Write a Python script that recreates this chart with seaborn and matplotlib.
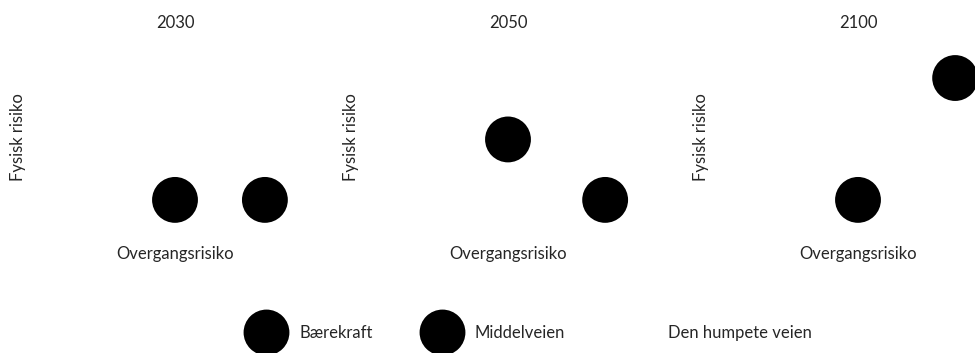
import matplotlib
matplotlib.use("Agg")
import matplotlib.pyplot as plt
from matplotlib.lines import Line2D
import seaborn as sns
import pandas as pd

# Scenario positions per horizon (transition risk on x, physical risk on y, 0-10 scale)
years = ["2030", "2050", "2100"]
scenarios = ["Bærekraft", "Middelveien", "Den humpete veien"]
baerekraft_x = [8.1, 8.35, 5.0]
baerekraft_y = [1.8, 1.8, 1.8]
middelveien_x = [5.0, 5.0, 8.35]
middelveien_y = [1.8, 4.9, 8.05]

rows = []
for i, yr in enumerate(years):
    rows.append({"year": yr, "scenario": "Bærekraft", "x": baerekraft_x[i], "y": baerekraft_y[i]})
    rows.append({"year": yr, "scenario": "Middelveien", "x": middelveien_x[i], "y": middelveien_y[i]})
df = pd.DataFrame(rows)

sns.set_theme(style="white")
plt.rcParams["font.family"] = ["Lato", "DejaVu Sans"]

W, H = 975, 353
FS = 12
fig = plt.figure(figsize=(W / 100, H / 100), dpi=100)

palette = {"Bærekraft": "black", "Middelveien": "black", "Den humpete veien": "white"}
lefts = [30, 363, 713]
ax_w, ax_top, ax_bot = 290, 40, 235

for yr, left in zip(years, lefts):
    ax = fig.add_axes([left / W, 1 - ax_bot / H, ax_w / W, (ax_bot - ax_top) / H])
    sns.scatterplot(data=df[df["year"] == yr], x="x", y="y", hue="scenario",
                    palette=palette, s=1090, linewidth=0, legend=False, ax=ax,
                    clip_on=False)
    ax.set_xlim(0, 10)
    ax.set_ylim(0, 10)
    ax.set_xticks([])
    ax.set_yticks([])
    for sp in ax.spines.values():
        sp.set_visible(False)
    ax.set_title(yr, fontsize=FS, pad=9)
    ax.set_xlabel("Overgangsrisiko", fontsize=FS, labelpad=8)
    ax.set_ylabel("Fysisk risiko", fontsize=FS, labelpad=3)

handles = [Line2D([], [], linestyle="none", marker="o", markersize=33,
                  markerfacecolor=palette[s], markeredgewidth=0) for s in scenarios]
fig.legend(handles, scenarios, loc="center", ncol=3, frameon=False,
           bbox_to_anchor=(0.541, 1 - 333 / H), fontsize=FS,
           handlelength=2.75, handletextpad=0.6, columnspacing=2.8)

fig.savefig("out.png", dpi=100, facecolor="white")
